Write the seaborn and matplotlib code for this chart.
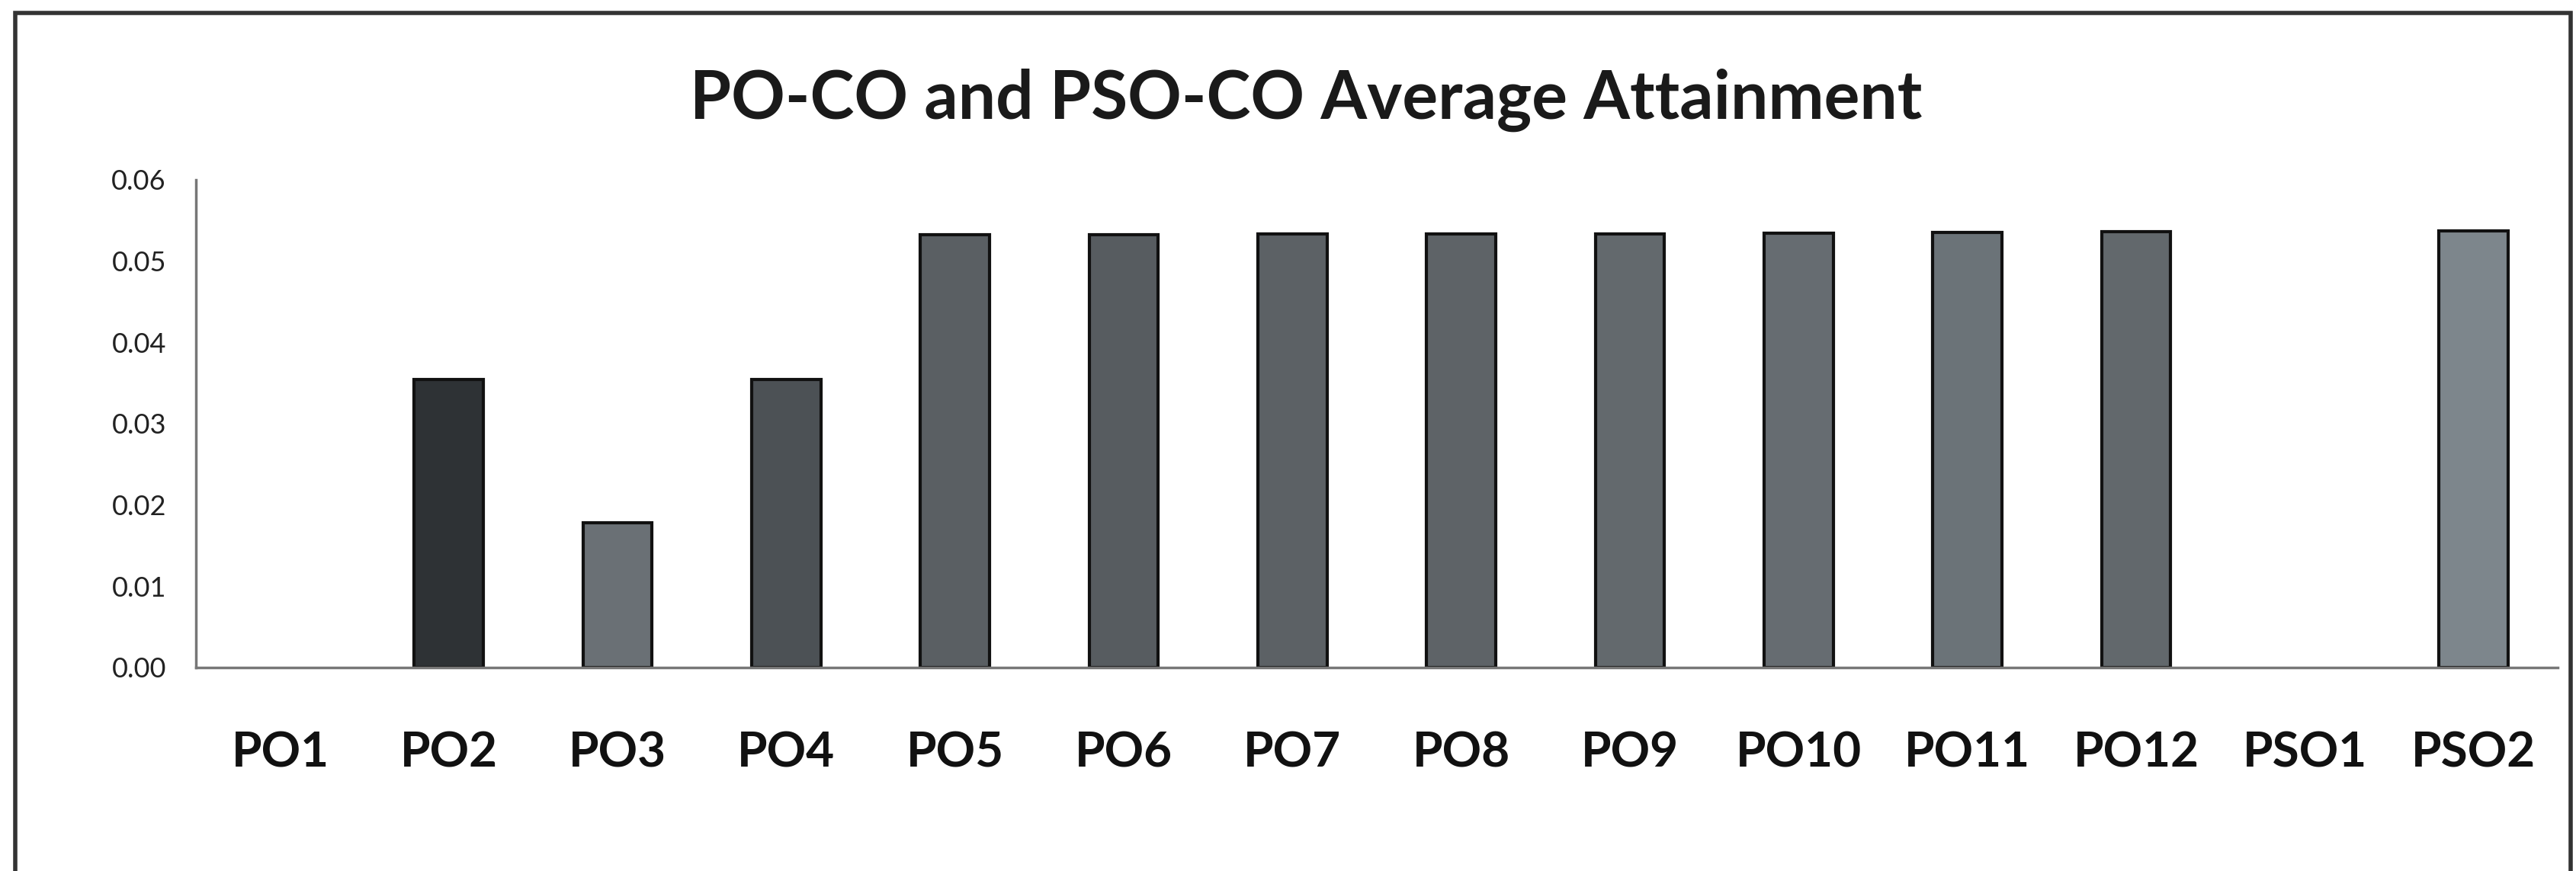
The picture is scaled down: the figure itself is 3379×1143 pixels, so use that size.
import matplotlib
matplotlib.use("Agg")
import matplotlib.pyplot as plt
import seaborn as sns
import pandas as pd
from matplotlib.patches import Rectangle

categories = ["PO1", "PO2", "PO3", "PO4", "PO5", "PO6", "PO7", "PO8", "PO9",
              "PO10", "PO11", "PO12", "PSO1", "PSO2"]
values = [0.0, 0.0354, 0.0178, 0.0354, 0.0532, 0.0532, 0.0533, 0.0533, 0.0533,
          0.0534, 0.0535, 0.0536, 0.0, 0.0537]
yticks = [0.00, 0.01, 0.02, 0.03, 0.04, 0.05, 0.06]
title = "PO-CO and PSO-CO Average Attainment"

bar_colors = ["#5a5f63", "#2e3235", "#6a7075", "#4c5155", "#5a5f63", "#575c60",
              "#5c6165", "#5e6367", "#63696d", "#666c71", "#6b7378", "#62686c",
              "#7a8388", "#7d868c"]

sns.set_theme(style="white")
plt.rcParams['font.family'] = ['Lato', 'DejaVu Sans']

df = pd.DataFrame({"cat": categories, "val": values})

fig = plt.figure(figsize=(33.79, 11.43), dpi=100)
ax = fig.add_axes([0.076, 0.2336, 0.917, 0.56])
sns.barplot(data=df, x="cat", y="val", hue="cat", palette=bar_colors,
            legend=False, width=0.41, edgecolor="#111111", linewidth=3,
            saturation=1, ax=ax)
for p in ax.patches:
    if p.get_height() == 0:
        p.set_linewidth(0)

ax.set_ylim(0, 0.06)
ax.set_xlim(-0.5, len(categories) - 0.5)
ax.set_yticks(yticks)
ax.set_yticklabels([f"{t:.2f}" for t in yticks], fontsize=26, color="#222222")
ax.set_xticks(range(len(categories)))
ax.set_xticklabels(categories, fontsize=46, fontweight="bold", color="#111111")
ax.tick_params(axis="y", length=0, pad=28)
ax.tick_params(axis="x", length=0, pad=60)
ax.set_xlabel("")
ax.set_ylabel("")
for s in ["top", "right"]:
    ax.spines[s].set_visible(False)
for s in ["left", "bottom"]:
    ax.spines[s].set_color("#777777")
    ax.spines[s].set_linewidth(2.5)

fig.text(0.507, 0.885, title, ha="center", va="center", fontsize=63,
         fontweight="bold", color="#1a1a1a")

fig.patches.append(Rectangle((20 / 3379, -0.05), 3352 / 3379, 1.05 - 17 / 1143,
                             transform=fig.transFigure, fill=False,
                             edgecolor="#333333", linewidth=4))

fig.savefig("out.png", dpi=100, facecolor="white")
